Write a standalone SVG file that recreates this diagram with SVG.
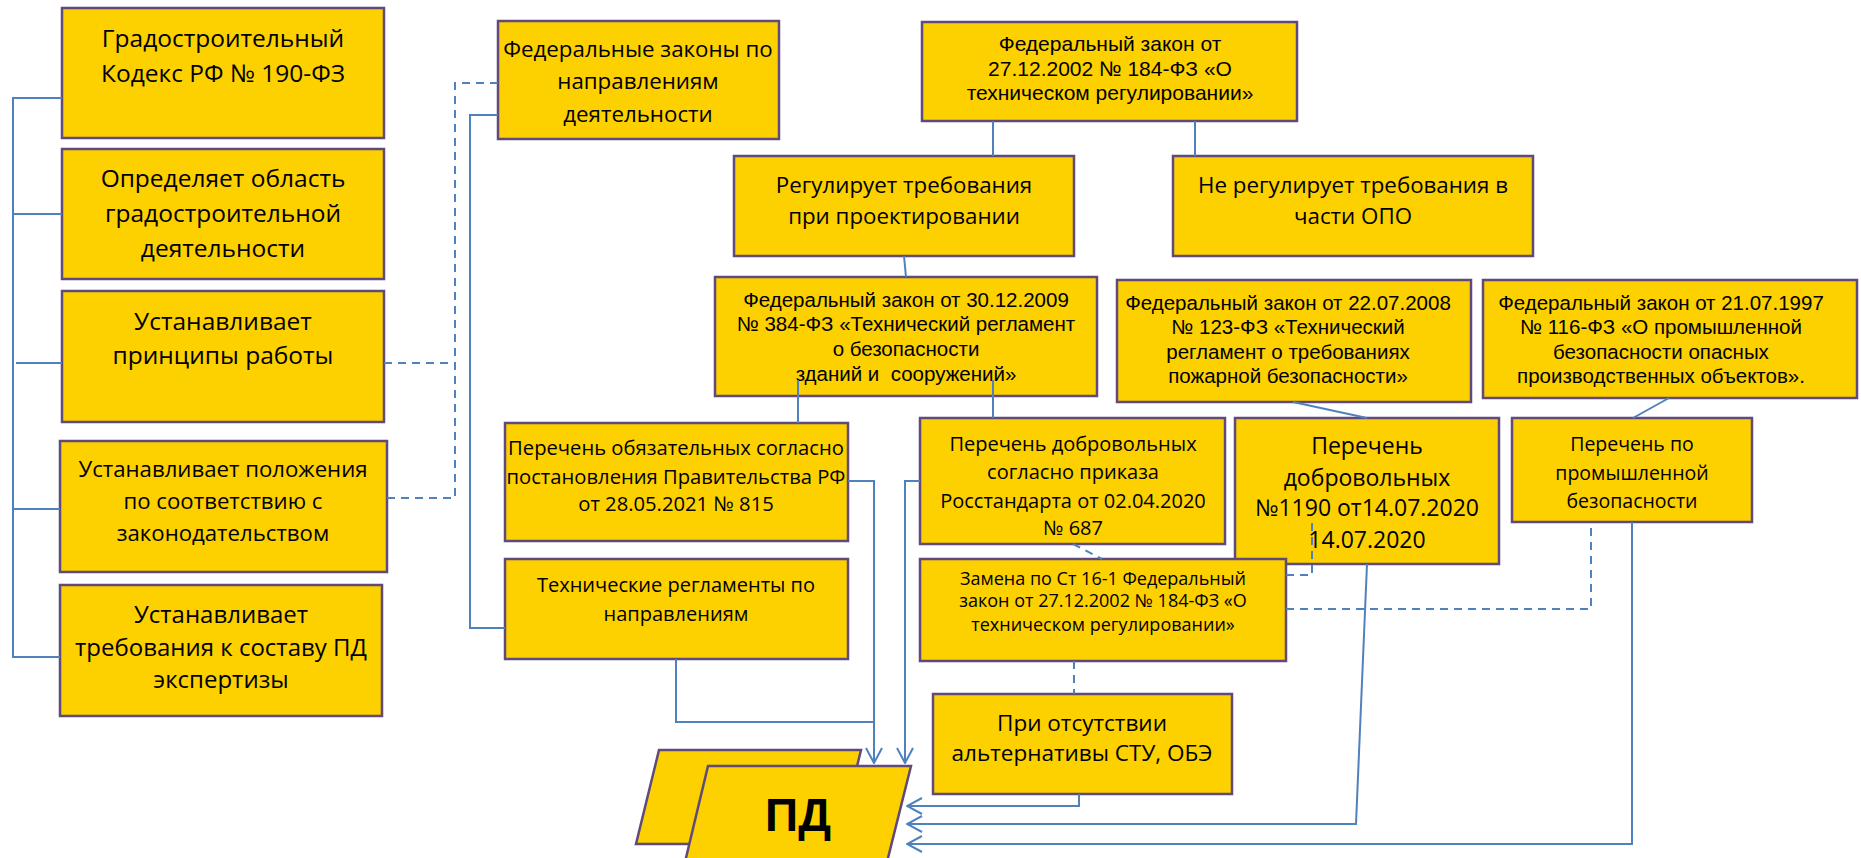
<svg xmlns="http://www.w3.org/2000/svg" width="1861" height="858" viewBox="0 0 1861 858">
<defs>
<style>
.box{fill:#FDD000;stroke:#604A7B;stroke-width:2.5}
.t{font-family:"Open Sans","Noto Sans","DejaVu Sans",sans-serif;fill:#000;text-anchor:middle}
.a{font-family:"Liberation Sans",Arial,sans-serif;fill:#000;text-anchor:middle}
.c{fill:none;stroke:#4F81BD;stroke-width:2}
.d{fill:none;stroke:#4F81BD;stroke-width:2;stroke-dasharray:8,6}
</style>
<marker id="arr" markerUnits="userSpaceOnUse" viewBox="0 0 17 18" markerWidth="17" markerHeight="18" refX="16" refY="9" orient="auto">
<path d="M1,1 L16,9 L1,17" fill="none" stroke="#4F81BD" stroke-width="2"/>
</marker>
</defs>
<rect width="1861" height="858" fill="#fff"/>

<g id="n-gk">
<rect class="box" x="62" y="8" width="322" height="130"/>
<text class="t" font-size="24.5" x="223" y="47">Градостроительный</text>
<text class="t" font-size="24.5" x="223" y="82">Кодекс РФ № 190-ФЗ</text>
</g>
<g id="n-oblast">
<rect class="box" x="62" y="149" width="322" height="130"/>
<text class="t" font-size="24.5" x="223" y="187">Определяет область</text>
<text class="t" font-size="24.5" x="223" y="222">градостроительной</text>
<text class="t" font-size="24.5" x="223" y="257">деятельности</text>
</g>
<g id="n-princip">
<rect class="box" x="62" y="291" width="322" height="131"/>
<text class="t" font-size="24.5" x="223" y="330">Устанавливает</text>
<text class="t" font-size="24.5" x="223" y="364">принципы работы</text>
</g>
<g id="n-polozh">
<rect class="box" x="60" y="441" width="327" height="131"/>
<text class="t" font-size="22.2" x="223" y="477">Устанавливает положения</text>
<text class="t" font-size="22.2" x="223" y="509">по соответствию с</text>
<text class="t" font-size="22.2" x="223" y="541">законодательством</text>
</g>
<g id="n-sostav">
<rect class="box" x="60" y="585" width="322" height="131"/>
<text class="t" font-size="24" x="221" y="623">Устанавливает</text>
<text class="t" font-size="24" x="221" y="656">требования к составу ПД</text>
<text class="t" font-size="24" x="221" y="688">экспертизы</text>
</g>

<g id="n-fznapr">
<rect class="box" x="498" y="21" width="281" height="118"/>
<text class="t" font-size="22.3" x="638" y="57">Федеральные законы по</text>
<text class="t" font-size="22.3" x="638" y="89">направлениям</text>
<text class="t" font-size="22.3" x="638" y="122">деятельности</text>
</g>
<g id="n-fz184">
<rect class="box" x="922" y="22" width="375" height="99"/>
<text class="a" font-size="21" x="1110" y="51">Федеральный закон от</text>
<text class="a" font-size="21" x="1110" y="76">27.12.2002 № 184-ФЗ «О</text>
<text class="a" font-size="21" x="1110" y="100">техническом регулировании»</text>
</g>
<g id="n-reg">
<rect class="box" x="734" y="156" width="340" height="100"/>
<text class="t" font-size="22.3" x="904" y="193">Регулирует требования</text>
<text class="t" font-size="22.3" x="904" y="224">при проектировании</text>
</g>
<g id="n-nereg">
<rect class="box" x="1173" y="156" width="360" height="100"/>
<text class="t" font-size="22.3" x="1353" y="193">Не регулирует требования в</text>
<text class="t" font-size="22.3" x="1353" y="224">части ОПО</text>
</g>
<g id="n-fz384">
<rect class="box" x="715" y="277" width="382" height="119"/>
<text class="a" font-size="20.5" x="906" y="307">Федеральный закон от 30.12.2009</text>
<text class="a" font-size="20.5" x="906" y="331">№ 384-ФЗ «Технический регламент</text>
<text class="a" font-size="20.5" x="906" y="356">о безопасности</text>
<text class="a" font-size="20.5" x="906" y="381" xml:space="preserve">зданий и  сооружений»</text>
</g>
<g id="n-fz123">
<rect class="box" x="1117" y="280" width="354" height="122"/>
<text class="a" font-size="20.5" x="1288" y="310">Федеральный закон от 22.07.2008</text>
<text class="a" font-size="20.5" x="1288" y="334">№ 123-ФЗ «Технический</text>
<text class="a" font-size="20.5" x="1288" y="359">регламент о требованиях</text>
<text class="a" font-size="20.5" x="1288" y="383">пожарной безопасности»</text>
</g>
<g id="n-fz116">
<rect class="box" x="1483" y="280" width="374" height="118"/>
<text class="a" font-size="20.5" x="1661" y="310">Федеральный закон от 21.07.1997</text>
<text class="a" font-size="20.5" x="1661" y="334">№ 116-ФЗ «О промышленной</text>
<text class="a" font-size="20.5" x="1661" y="359">безопасности опасных</text>
<text class="a" font-size="20.5" x="1661" y="383">производственных объектов».</text>
</g>

<g id="n-obyaz">
<rect class="box" x="505" y="423" width="343" height="118"/>
<text class="t" font-size="20.2" x="676" y="455">Перечень обязательных согласно</text>
<text class="t" font-size="20.2" x="676" y="484">постановления Правительства РФ</text>
<text class="t" font-size="20.2" x="676" y="511">от 28.05.2021 № 815</text>
</g>
<g id="n-techreg">
<rect class="box" x="505" y="559" width="343" height="100"/>
<text class="t" font-size="20" x="676" y="592">Технические регламенты по</text>
<text class="t" font-size="20" x="676" y="621">направлениям</text>
</g>
<g id="n-dobr687">
<rect class="box" x="920" y="418" width="305" height="126"/>
<text class="t" font-size="20" x="1073" y="451">Перечень добровольных</text>
<text class="t" font-size="20" x="1073" y="479">согласно приказа</text>
<text class="t" font-size="20" x="1073" y="508">Росстандарта от 02.04.2020</text>
<text class="t" font-size="20" x="1073" y="535">№ 687</text>
</g>
<g id="n-dobr1190">
<rect class="box" x="1235" y="418" width="264" height="146"/>
<text class="t" font-size="23" x="1367" y="454">Перечень</text>
<text class="t" font-size="23" x="1367" y="486">добровольных</text>
<text class="t" font-size="23" x="1367" y="516">№1190 от14.07.2020</text>
<text class="t" font-size="23" x="1367" y="548">14.07.2020</text>
</g>
<g id="n-prom">
<rect class="box" x="1512" y="418" width="240" height="104"/>
<text class="t" font-size="19.5" x="1632" y="451">Перечень по</text>
<text class="t" font-size="19.5" x="1632" y="480">промышленной</text>
<text class="t" font-size="19.5" x="1632" y="508">безопасности</text>
</g>
<g id="n-zamena">
<rect class="box" x="920" y="559" width="366" height="102"/>
<text class="t" font-size="18" x="1103" y="585">Замена по Ст 16-1 Федеральный</text>
<text class="t" font-size="18" x="1103" y="607">закон от 27.12.2002 № 184-ФЗ «О</text>
<text class="t" font-size="18" x="1103" y="631">техническом регулировании»</text>
</g>
<g id="n-pri">
<rect class="box" x="933" y="694" width="299" height="100"/>
<text class="t" font-size="22.5" x="1082" y="731">При отсутствии</text>
<text class="t" font-size="22.5" x="1082" y="761">альтернативы СТУ, ОБЭ</text>
</g>
<g id="n-pd">
<path class="box" d="M659,750 L861,750 L838,844 L636,844 Z"/>
<path class="box" d="M708,766 L911,766 L887,862 L685,862 Z"/>
<text class="a" font-size="46" font-weight="bold" x="798" y="831">ПД</text>
</g>

<g id="connectors">
<path class="c" d="M62,98 H13 V657 H60"/>
<path class="c" d="M13,214 H62"/>
<path class="c" d="M16,363 H62"/>
<path class="c" d="M13,509 H60"/>
<path class="d" d="M384,363 H455"/>
<path class="d" d="M387,498 H455 V83 H498"/>
<path class="c" d="M498,115 H470 V628 H505"/>
<path class="c" d="M993,121 V156"/>
<path class="c" d="M1195,121 V156"/>
<path class="c" d="M904,256 L906,277"/>
<path class="c" d="M798,380 V423"/>
<path class="c" d="M993,380 V418"/>
<path class="c" d="M1293,402 L1367,418"/>
<path class="c" d="M1669,398 L1633,418"/>
<path class="c" d="M848,481 H874 V763" marker-end="url(#arr)"/>
<path class="c" d="M676,659 V722 H874"/>
<path class="c" d="M920,481 H905 V763" marker-end="url(#arr)"/>
<path class="d" d="M1073,544 L1102,559"/>
<path class="d" d="M1286,575 H1312 V517"/>
<path class="d" d="M1286,609 H1591 V522"/>
<path class="d" d="M1074,661 V694"/>
<path class="c" d="M1079,794 V806 H907" marker-end="url(#arr)"/>
<path class="c" d="M1367,564 L1356,824 H907" marker-end="url(#arr)"/>
<path class="c" d="M1632,522 V844 H907" marker-end="url(#arr)"/>
</g>
</svg>
